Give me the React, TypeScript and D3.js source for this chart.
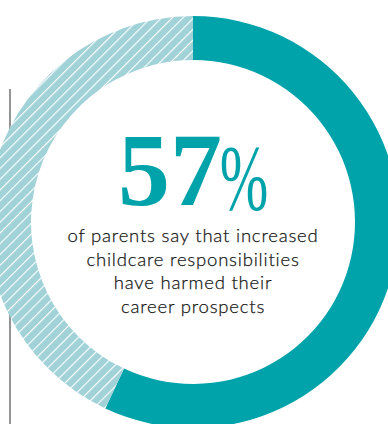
import React from "react";
import * as d3 from "d3";

const categories = ["Harmed career prospects", "Not harmed"];
const values = [57, 43];
const headline = "57";
const caption = [
  "of parents say that increased",
  "childcare responsibilities",
  "have harmed their",
  "career prospects",
];

const W = 388;
const H = 424;
const cx = 193;
const cy = 222;
const outerR = 206;
const innerR = 162;

export default function App() {
  const pie = d3.pie<number>().sort(null).value((d) => d)(values);
  const arc = d3.arc<d3.PieArcDatum<number>>().innerRadius(innerR).outerRadius(outerR);
  const fills = ["#00a3aa", "url(#hatch)"];
  return (
    <svg width={W} height={H} style={{ position: "absolute", left: 0, top: 0 }}>
      <defs>
        <pattern id="hatch" patternUnits="userSpaceOnUse" width={7.6} height={7.6} patternTransform="rotate(45)">
          <rect width={7.6} height={7.6} fill="#a0d2d8" />
          <line x1={0} y1={0} x2={0} y2={7.6} stroke="#ffffff" strokeWidth={2.2} />
        </pattern>
      </defs>
      <rect width={W} height={H} fill="#ffffff" />
      <line x1={10} y1={89} x2={10} y2={H} stroke="#7a7a7a" strokeWidth={1.6} />
      <g transform={`translate(${cx},${cy})`}>
        {pie.map((p, i) => (
          <path key={categories[i]} d={arc(p) || ""} fill={fills[i]} />
        ))}
      </g>
      <text x={170} y={205} textAnchor="middle" fill="#00a3aa" fontFamily="Liberation Serif" fontWeight={700} fontSize={104}>
        {headline}
      </text>
      <text x={0} y={0} transform="translate(244,209) scale(0.62,1)" textAnchor="middle" fill="#00a3aa" fontFamily="Liberation Serif" fontSize={94}>
        %
      </text>
      {caption.map((t, i) => (
        <text key={i} x={193} y={242 + i * 23.5} textAnchor="middle" fill="#151515" fontFamily="Lato" fontWeight={300} fontSize={18.5} letterSpacing={0.8} stroke="#151515" strokeWidth={0.25}>
          {t}
        </text>
      ))}
    </svg>
  );
}
